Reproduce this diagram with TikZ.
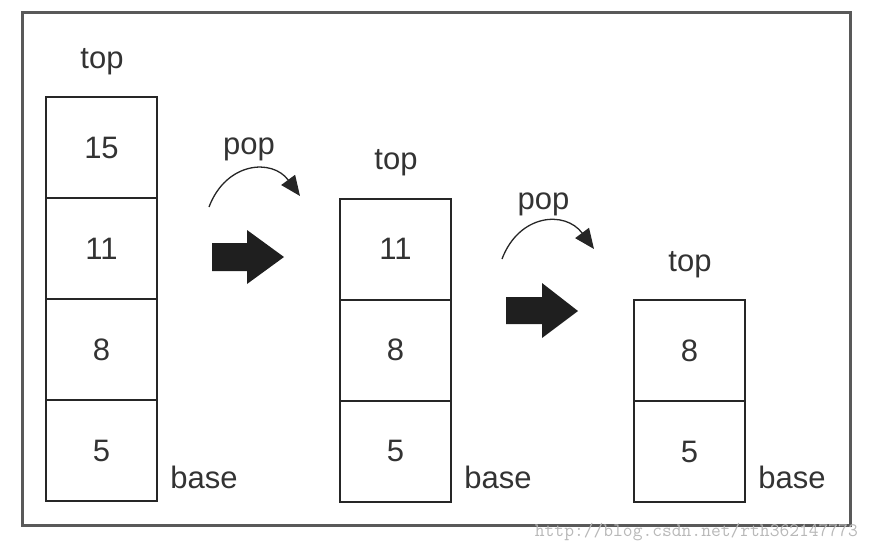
\documentclass[tikz,border=0pt]{standalone}
\usepackage{fontspec}
\setmainfont{Liberation Sans}
\usetikzlibrary{positioning,arrows.meta}

\tikzset{
    cell/.style={draw=black!85, line width=2pt, minimum width=111pt, minimum height=101pt,
        outer sep=0pt, inner sep=0pt, text=black!80, font=\fontsize{31}{31}\selectfont},
    lbl/.style={inner sep=0pt, text=black!80, font=\fontsize{31}{31}\selectfont},
    popline/.style={line width=1.3pt, draw=black!85, -{Triangle[length=20pt,width=17pt]}},
    bigarrow/.style={fill=black!88, draw=none}
}

\begin{document}
\begin{tikzpicture}[x=1pt,y=-1pt]
    \useasboundingbox (0,0) rectangle (870,552);
    \draw[black!65, line width=3pt] (22,12) rectangle (850,525);
    % stack before
    \node[cell] (a15) at (101.5,147.5) {15};
    \node[cell, below=0pt of a15] (a11) {11};
    \node[cell, below=0pt of a11] (a8) {8};
    \node[cell, below=0pt of a8] (a5) {5};
    \node[lbl] (atop) at (102,62) {top};
    \node[lbl] (abase) at (204,477) {base};
    % first pop
    \node[lbl] (pop1) at (249,149) {pop};
    \coordinate (p1s) at (209,207);
    \coordinate (p1e) at (300,196);
    \draw[popline] (p1s) .. controls (226,162) and (272,158) .. (p1e);
    \fill[bigarrow] (212,243) -- (247,243) -- (247,230) -- (284,257)
        -- (247,284) -- (247,271) -- (212,271) -- cycle;
    % stack after one pop
    \node[cell] (b11) at (395.5,249) {11};
    \node[cell, below=0pt of b11] (b8) {8};
    \node[cell, below=0pt of b8] (b5) {5};
    \node[lbl] (btop) at (396,163) {top};
    \node[lbl] (bbase) at (498,477) {base};
    % second pop
    \node[lbl] (pop2) at (543.5,204) {pop};
    \coordinate (p2s) at (502,259);
    \coordinate (p2e) at (594,249);
    \draw[popline] (p2s) .. controls (519,214) and (565,210) .. (p2e);
    \fill[bigarrow] (506,297) -- (542,297) -- (542,283) -- (578,311)
        -- (542,338) -- (542,324) -- (506,324) -- cycle;
    % stack after two pops
    \node[cell] (c8) at (689.5,350.5) {8};
    \node[cell, below=0pt of c8] (c5) {5};
    \node[lbl] (ctop) at (690,265) {top};
    \node[lbl] (cbase) at (792,477) {base};
    \node[anchor=east, inner sep=0pt, text=black!28, font=\ttfamily\fontsize{19}{19}\selectfont]
        (mark) at (858,532) {http://blog.csdn.net/rth362147773};
\end{tikzpicture}
\end{document}
